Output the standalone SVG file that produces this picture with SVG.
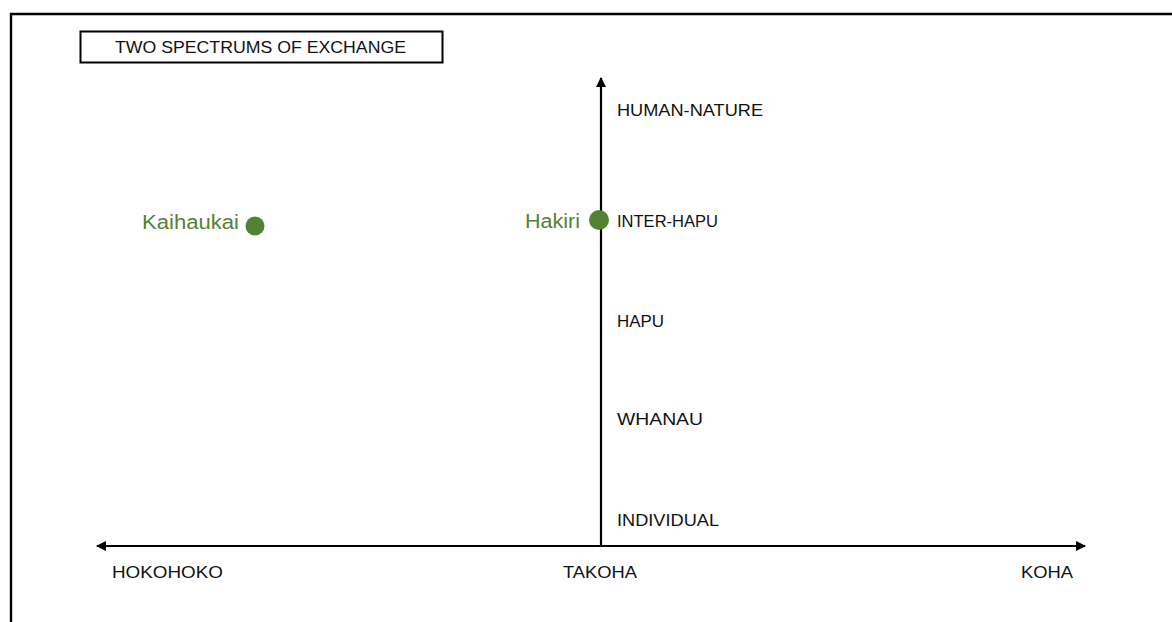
<svg xmlns="http://www.w3.org/2000/svg" width="1172" height="622" viewBox="0 0 1172 622">
<style>
.lbl{font-family:"Liberation Sans",Arial,sans-serif;font-size:17px;fill:#111}
.grn{font-family:"Liberation Sans",Arial,sans-serif;font-size:20px;fill:#548235}
.ax{stroke:#000;stroke-width:2.2;fill:none}
</style>
<defs>
<marker id="ah" viewBox="0 0 10 10" refX="9" refY="5" markerWidth="4.5" markerHeight="4.5" orient="auto-start-reverse" markerUnits="strokeWidth">
<path d="M0,0 L10,5 L0,10 Z" fill="#000"/>
</marker>
</defs>
<rect width="1172" height="622" fill="#fff"/>
<g id="frame">
<path d="M11,622 V14 H1172" stroke="#000" stroke-width="2.4" fill="none"/>
</g>
<g id="title">
<rect x="80.5" y="31.5" width="362" height="31" fill="none" stroke="#000" stroke-width="2"/>
<text class="lbl" x="115" y="53" textLength="291" lengthAdjust="spacingAndGlyphs">TWO SPECTRUMS OF EXCHANGE</text>
</g>
<g id="connectors">
<line class="ax" x1="97" y1="546" x2="1085" y2="546" marker-start="url(#ah)" marker-end="url(#ah)"/>
<line class="ax" x1="601" y1="546" x2="601" y2="78" marker-end="url(#ah)"/>
</g>
<g id="x-labels">
<text class="lbl" x="112" y="578" textLength="111" lengthAdjust="spacingAndGlyphs">HOKOHOKO</text>
<text class="lbl" x="563" y="578" textLength="74" lengthAdjust="spacingAndGlyphs">TAKOHA</text>
<text class="lbl" x="1021" y="578" textLength="52" lengthAdjust="spacingAndGlyphs">KOHA</text>
</g>
<g id="y-labels">
<text class="lbl" x="617" y="116" textLength="146" lengthAdjust="spacingAndGlyphs">HUMAN-NATURE</text>
<text class="lbl" x="617" y="227" textLength="101" lengthAdjust="spacingAndGlyphs">INTER-HAPU</text>
<text class="lbl" x="617" y="327" textLength="47" lengthAdjust="spacingAndGlyphs">HAPU</text>
<text class="lbl" x="617" y="425" textLength="86" lengthAdjust="spacingAndGlyphs">WHANAU</text>
<text class="lbl" x="617" y="526" textLength="102" lengthAdjust="spacingAndGlyphs">INDIVIDUAL</text>
</g>
<g id="hakiri">
<circle cx="599" cy="220" r="10" fill="#548235"/>
<text class="grn" x="525" y="228" textLength="55" lengthAdjust="spacingAndGlyphs">Hakiri</text>
</g>
<g id="kaihaukai">
<circle cx="255" cy="226" r="9.5" fill="#548235"/>
<text class="grn" x="142" y="229" textLength="97" lengthAdjust="spacingAndGlyphs">Kaihaukai</text>
</g>
</svg>
